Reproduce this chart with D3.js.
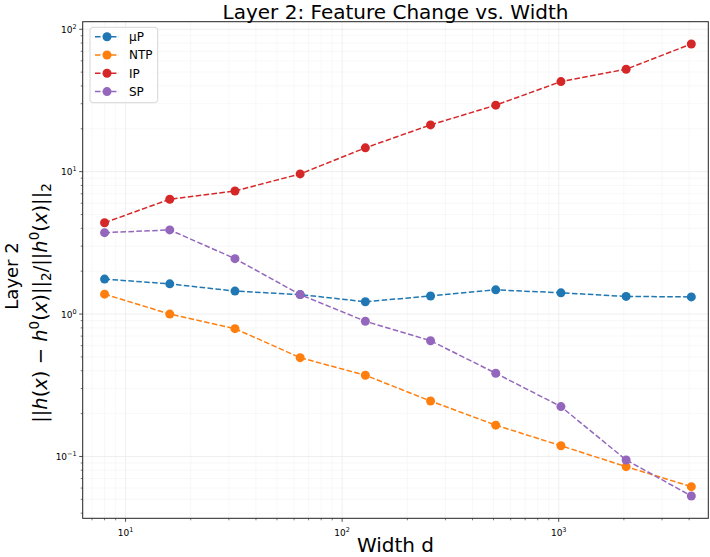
<!DOCTYPE html>
<html><head><meta charset="utf-8">
<script src="https://cdn.jsdelivr.net/npm/d3@7"></script>
<style>body{margin:0;background:#fff} text{font-family:"DejaVu Sans",sans-serif;fill:#000}</style>
</head><body><svg id="c" width="710" height="557"></svg>
<script>
const widths = [8,16,32,64,128,256,512,1024,2048,4096];
const muP = [1.76,1.63,1.45,1.37,1.22,1.34,1.48,1.41,1.33,1.32];
const NTP = [1.38,1.00,0.79,0.494,0.372,0.245,0.166,0.119,0.0848,0.0614];
const IP  = [4.38,6.40,7.32,9.64,14.7,21.3,29.3,42.9,52.4,78.8];
const SP  = [3.73,3.90,2.45,1.37,0.89,0.65,0.384,0.224,0.0945,0.0528];
const seriesNames = ["μP","NTP","IP","SP"];
const seriesValues = [muP, NTP, IP, SP];
const colors = ["#1f77b4","#ff7f0e","#d62728","#9467bd"];
const xTickValues = [10,100,1000];
const xTickExps = ["1","2","3"];
const yTickValues = [0.1,1,10,100];
const yTickExps = ["−1","0","1","2"];
const titleText = "Layer 2: Feature Change vs. Width";
const xLabelText = "Width d";
const yLabelLine1 = "Layer 2";

const L=82.7, R=708.3, T=21.7, B=518.3;
const x = d3.scaleLog().domain([6.34,4906]).range([L,R]);
const y = d3.scaleLog().domain([0.0368,113]).range([B,T]);
const svg = d3.select("#c");

function minors(lo,hi){const out=[];for(let e=Math.floor(Math.log10(lo));e<=Math.ceil(Math.log10(hi));e++){for(let m=2;m<=9;m++){const v=m*Math.pow(10,e);if(v>=lo&&v<=hi)out.push(v);}}return out;}
const xMin = minors(6.34,4906), yMin = minors(0.0368,113);

const grid = svg.append("g");
grid.selectAll(".xm").data(xMin).join("line").attr("x1",d=>x(d)).attr("x2",d=>x(d)).attr("y1",T).attr("y2",B).attr("stroke","#f3f3f3").attr("stroke-width",0.6);
grid.selectAll(".ym").data(yMin).join("line").attr("y1",d=>y(d)).attr("y2",d=>y(d)).attr("x1",L).attr("x2",R).attr("stroke","#f3f3f3").attr("stroke-width",0.6);
grid.selectAll(".xM").data(xTickValues).join("line").attr("x1",d=>x(d)).attr("x2",d=>x(d)).attr("y1",T).attr("y2",B).attr("stroke","#ebebeb").attr("stroke-width",0.8);
grid.selectAll(".yM").data(yTickValues).join("line").attr("y1",d=>y(d)).attr("y2",d=>y(d)).attr("x1",L).attr("x2",R).attr("stroke","#ebebeb").attr("stroke-width",0.8);

const line = d3.line().x((d,i)=>x(widths[i])).y(d=>y(d));
seriesValues.forEach((vals,k)=>{
  const g = svg.append("g");
  g.append("path").attr("d",line(vals)).attr("fill","none").attr("stroke",colors[k]).attr("stroke-width",1.5).attr("stroke-dasharray","5.55,2.4");
  g.selectAll("circle").data(vals).join("circle").attr("cx",(d,i)=>x(widths[i])).attr("cy",d=>y(d)).attr("r",4.5).attr("fill",colors[k]);
});

svg.append("rect").attr("x",L).attr("y",T).attr("width",R-L).attr("height",B-T).attr("fill","none").attr("stroke","#222").attr("stroke-width",1);

const tk = svg.append("g").attr("stroke","#222");
tk.selectAll(".a").data(xTickValues).join("line").attr("x1",d=>x(d)).attr("x2",d=>x(d)).attr("y1",B).attr("y2",B+3.5).attr("stroke-width",0.8);
tk.selectAll(".b").data(xMin).join("line").attr("x1",d=>x(d)).attr("x2",d=>x(d)).attr("y1",B).attr("y2",B+2).attr("stroke-width",0.6);
tk.selectAll(".c").data(yTickValues).join("line").attr("y1",d=>y(d)).attr("y2",d=>y(d)).attr("x1",L).attr("x2",L-3.5).attr("stroke-width",0.8);
tk.selectAll(".d").data(yMin).join("line").attr("y1",d=>y(d)).attr("y2",d=>y(d)).attr("x1",L).attr("x2",L-2).attr("stroke-width",0.6);

function pow10Label(sel, exp){
  sel.append("tspan").text("10");
  sel.append("tspan").attr("font-size",6.5).attr("dy",-4).text(exp);
}
xTickValues.forEach((v,i)=>{
  const t = svg.append("text").attr("x",x(v)).attr("y",536).attr("text-anchor","middle").attr("font-size",9);
  pow10Label(t, xTickExps[i]);
});
yTickValues.forEach((v,i)=>{
  const t = svg.append("text").attr("x",L-6).attr("y",y(v)+3.5).attr("text-anchor","end").attr("font-size",9);
  pow10Label(t, yTickExps[i]);
});

svg.append("text").attr("x",(L+R)/2).attr("y",18.5).attr("text-anchor","middle").attr("font-size",20).text(titleText);
svg.append("text").attr("x",(L+R)/2).attr("y",552).attr("text-anchor","middle").attr("font-size",20).text(xLabelText);

svg.append("text").attr("transform","translate(17.5,276) rotate(-90)").attr("text-anchor","middle").attr("font-size",18).text(yLabelLine1);
const segs = [["||"],["h","it"],["("],["x","it"],[")"],[" − "],["h","it"],["0","sup"],["("],["x","it"],[")"],["||"],["2","sub"],["/||"],["h","it"],["0","sup"],["("],["x","it"],[")||"],["2","sub"]];
const ml = svg.append("text").attr("transform","translate(46.5,303) rotate(-90)").attr("text-anchor","middle").attr("font-size",19.5);
let shift=0;
segs.forEach(([t,s])=>{
  const ts = ml.append("tspan").text(t);
  let target = 0;
  if(s==="sup"){ts.attr("font-size",13.5);target=-8;}
  else if(s==="sub"){ts.attr("font-size",13.5);target=4;}
  if(s==="it") ts.attr("font-style","italic");
  if(target!==shift){ts.attr("dy",target-shift);shift=target;}
});

const lg = svg.append("g");
lg.append("rect").attr("x",90).attr("y",27.3).attr("width",67.7).attr("height",75.4).attr("rx",3).attr("fill","#fff").attr("fill-opacity",0.8).attr("stroke","#d6d6d6").attr("stroke-width",1);
seriesNames.forEach((n,k)=>{
  const yy = 36.7 + k*18.3;
  lg.append("line").attr("x1",95).attr("x2",119).attr("y1",yy).attr("y2",yy).attr("stroke",colors[k]).attr("stroke-width",1.5).attr("stroke-dasharray","5.55,2.4");
  lg.append("circle").attr("cx",107).attr("cy",yy).attr("r",4.5).attr("fill",colors[k]);
  lg.append("text").attr("x",129).attr("y",yy+4.4).attr("font-size",12).text(n);
});
</script></body></html>
